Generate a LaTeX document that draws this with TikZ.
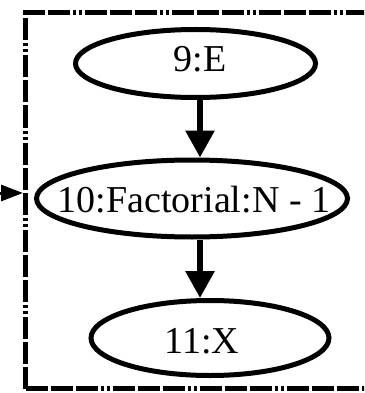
\documentclass[tikz,border=0pt]{standalone}
\usepackage{fontspec}
\setmainfont{Liberation Serif}
\usetikzlibrary{shapes.geometric,arrows.meta}
\newcommand{\lbl}[3]{\smash{\makebox[0pt]{\hspace*{#1}\raisebox{#2}{\fontsize{38}{40}\selectfont #3}}}}
\tikzset{
  ell/.style={ellipse, draw, line width=5pt, inner sep=0pt},
  arr/.style={line width=6pt, -{Triangle[length=27pt, width=28pt]}},
  inarr/.style={line width=3pt, -{Triangle[length=22pt, width=16pt]}},
  frame/.style={line width=5pt, dash pattern=on 22pt off 3pt on 22pt off 3pt on 22pt off 3pt on 3pt off 3pt on 3pt off 3pt}
}
\begin{document}
\begin{tikzpicture}[x=1pt, y=-1pt]
\useasboundingbox (0,0) rectangle (364,393);
\clip (0,0) rectangle (364,393);
% cluster frame
\coordinate (tl) at (25.5,12.5);
\coordinate (bl) at (25.5,388.5);
\coordinate (tr) at (420,12.5);
\coordinate (br) at (420,388.5);
\draw[frame] (bl) -- (tl) -- (tr);
\draw[frame] (bl) -- (br);
% nodes
\node[ell, minimum width=240pt, minimum height=68pt] (E) at (195.5,63.5) {\lbl{9pt}{-8.3pt}{9:E}};
\node[ell, minimum width=311pt, minimum height=77pt] (F) at (192,198.5) {\lbl{4pt}{-13.8pt}{10:Factorial:N - 1}};
\node[ell, minimum width=238pt, minimum height=75pt] (X) at (210,338) {\lbl{-16pt}{-15.8pt}{11:X}};
% connectors
\coordinate (shaft) at (200,0);
\draw[arr] (E.south -| shaft) -- (F.north -| shaft);
\draw[arr] (F.south -| shaft) -- (X.north -| shaft);
\coordinate (src) at (-40,193);
\coordinate (tip) at (23,193);
\draw[inarr] (src) -- (tip);
\end{tikzpicture}
\end{document}
